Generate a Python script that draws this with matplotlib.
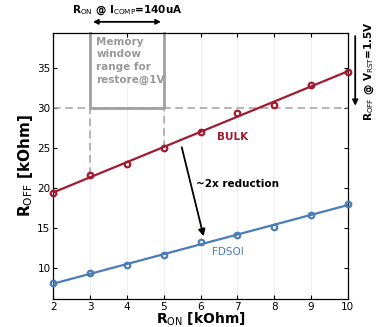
import numpy as np
import matplotlib
matplotlib.use("Agg")
import matplotlib.pyplot as plt

# R_ON [kOhm] values
r_on = [2, 3, 4, 5, 6, 7, 8, 9, 10]
# R_OFF [kOhm]
bulk = [19.3, 21.6, 23.0, 25.0, 27.0, 29.3, 30.4, 32.8, 34.5]
fdsoi = [8.05, 9.3, 10.4, 11.6, 13.2, 14.05, 15.15, 16.6, 18.0]
x_ticks = [2, 3, 4, 5, 6, 7, 8, 9, 10]
y_ticks = [10, 15, 20, 25, 30, 35]

BULK_COLOR = "#a01a30"
FDSOI_COLOR = "#4a7cb8"
GRAY = "#a0a0a0"

plt.rcParams["font.family"] = ["DejaVu Sans"]

fig = plt.figure(figsize=(3.82, 3.27), dpi=100)
ax = fig.add_axes([0.1396, 0.0856, 0.771, 0.815])

# fitted lines + measured points
for vals, col in [(bulk, BULK_COLOR), (fdsoi, FDSOI_COLOR)]:
    k, b = np.polyfit(r_on, vals, 1)
    xs = np.array([r_on[0], r_on[-1]])
    ax.plot(xs, k * xs + b, color=col, lw=1.6, zorder=3)
    ax.plot(r_on, vals, "o", ms=4, mfc="none", mec=col, mew=1.6, zorder=4, clip_on=False)

ax.set_xlim(2, 10)
ax.set_ylim(6.1, 39.4)
ax.set_xticks(x_ticks)
ax.set_yticks(y_ticks)
ax.tick_params(direction="in", length=3, labelsize=7.5, top=True, right=True, pad=2)
ax.grid(axis="x", color="#ececec", lw=0.6)
for s in ax.spines.values():
    s.set_linewidth(0.9)

# memory window: dashed guides and box
ax.axhline(30, color=GRAY, ls=(0, (5, 3)), lw=1.1, zorder=2)
ax.plot([3, 3], [bulk[1], 30], color=GRAY, ls=(0, (5, 3)), lw=1.1, zorder=2)
ax.plot([5, 5], [bulk[3], 30], color=GRAY, ls=(0, (5, 3)), lw=1.1, zorder=2)
ax.plot([3, 3, 5, 5], [39.4, 30, 30, 39.4], color=GRAY, lw=2, zorder=2, clip_on=False)
ax.text(3.17, 38.9, "Memory\nwindow\nrange for\nrestore@1V", color="#999999",
        fontsize=7.5, fontweight="bold", va="top", ha="left", linespacing=1.35)

# labels for the two curves
ax.text(6.45, 26.4, "BULK", color=BULK_COLOR, fontsize=7.5, fontweight="bold",
        va="center", ha="left")
ax.text(6.3, 12.0, "FDSOI", color=FDSOI_COLOR, fontsize=7.5, va="center", ha="left")

# reduction arrow
ax.annotate("", xy=(6.1, 13.6), xytext=(5.47, 25.4),
            arrowprops=dict(arrowstyle="-|>", color="black", lw=1.3,
                            mutation_scale=10))
ax.text(5.88, 20.5, "~2x reduction", fontsize=7.5, fontweight="bold", va="center", ha="left")

# top arrow for R_ON range
ax.annotate("", xy=(3, 1.04), xytext=(5, 1.04),
            xycoords=("data", "axes fraction"), textcoords=("data", "axes fraction"),
            arrowprops=dict(arrowstyle="<|-|>", color="black", lw=1.3,
                            mutation_scale=7), annotation_clip=False)
ax.text(4, 1.083, r"R$_{\rm ON}$ @ I$_{\rm COMP}$=140uA", transform=ax.get_xaxis_transform(),
        ha="center", va="center", fontsize=7.5, fontweight="bold")

# right arrow for R_OFF
ax.annotate("", xy=(1.025, 29.9), xytext=(1.025, 39.3),
            xycoords=("axes fraction", "data"), textcoords=("axes fraction", "data"),
            arrowprops=dict(arrowstyle="-|>", color="black", lw=1.3,
                            mutation_scale=8), annotation_clip=False)
ax.text(1.072, 34.6, r"R$_{\rm OFF}$ @ V$_{\rm RST}$=1.5V", transform=ax.get_yaxis_transform(),
        ha="center", va="center", rotation=90, fontsize=7.5, fontweight="bold")

ax.set_ylabel(r"R$_{\rm OFF}$ [kOhm]", fontsize=11, fontweight="bold", labelpad=2)
ax.set_xlabel(r"R$_{\rm ON}$ [kOhm]", fontsize=10, fontweight="bold", labelpad=-1)

fig.savefig("out.png", dpi=100)
